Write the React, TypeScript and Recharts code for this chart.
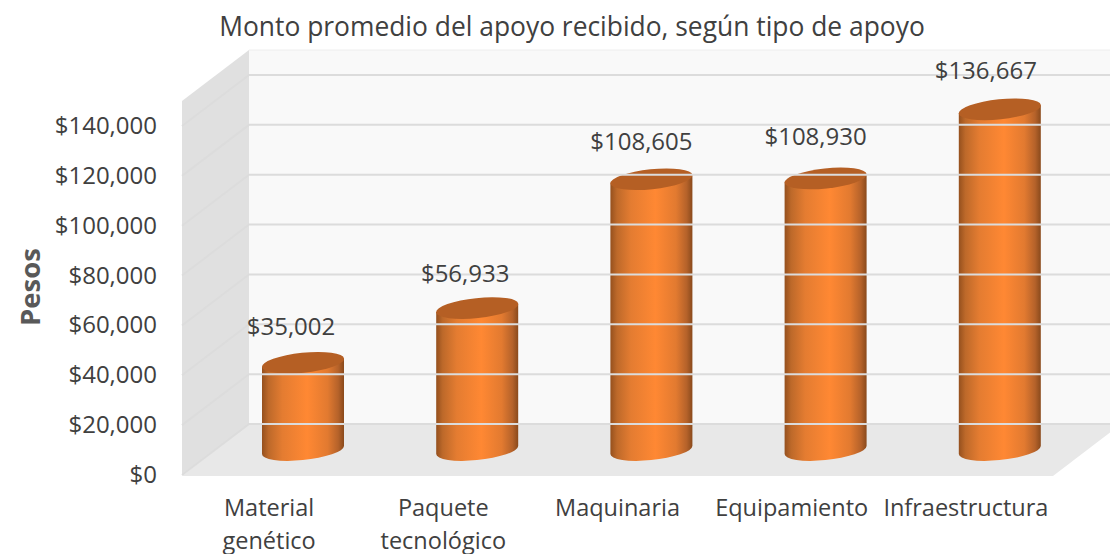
import React from "react";
import { BarChart, Bar, XAxis, YAxis, LabelList } from "recharts";

const categories = ["Material genético", "Paquete tecnológico", "Maquinaria", "Equipamiento", "Infraestructura"];
const amounts = [35002, 56933, 108605, 108930, 136667];
const yTicks = [0, 20000, 40000, 60000, 80000, 100000, 120000, 140000];
const labelNudges = [0, 2, -1, -5, -2];
const labelShiftX = [-12, -12, -10, -10, -14];

const rows = categories.map((name, i) => ({ name, amount: amounts[i] }));

const W = 1110, H = 554;
const LEFT = 182, RIGHT = 1053, TOP = 126, BOTTOM = 475;
const DX = 67, DY = 51;
const SHIFT_X = 34, SHIFT_Y = 25;
const FONT = '"Open Sans", sans-serif';
const TEXT = "#404040";
const money = (v: number) => "$" + v.toLocaleString("en-US");

function Backdrop() {
  const backTop = 50;
  const backBottom = BOTTOM - DY;
  return (
    <g>
      <defs>
        <linearGradient id="cyl" x1="0" y1="0" x2="1" y2="0">
          <stop offset="0" stopColor="#95501e" />
          <stop offset="0.08" stopColor="#bd692a" />
          <stop offset="0.25" stopColor="#e47c31" />
          <stop offset="0.55" stopColor="#ff8833" />
          <stop offset="0.8" stopColor="#e27a30" />
          <stop offset="0.93" stopColor="#b5622a" />
          <stop offset="1" stopColor="#8a4a1c" />
        </linearGradient>
      </defs>
      <rect x={LEFT + DX} y={backTop} width={W - LEFT - DX} height={backBottom - backTop} fill="#f9f9f9" />
      <line x1={LEFT + DX} y1={backTop} x2={W} y2={backTop} stroke="#eeeeee" strokeWidth={1} />
      <polygon points={`${LEFT},${backTop + DY} ${LEFT + DX},${backTop} ${LEFT + DX},${backBottom} ${LEFT},${BOTTOM}`} fill="#e0e0e0" />
      <polygon points={`${LEFT},${BOTTOM + 1} ${LEFT + DX},${backBottom} ${W},${backBottom} ${W},${BOTTOM + 1 - ((W - RIGHT) * DY) / DX} ${RIGHT},${BOTTOM + 1}`} fill="#e8e8e8" />
      <text x={572} y={36} textAnchor="middle" fontFamily={FONT} fontSize={26.4} fill={TEXT}>
        Monto promedio del apoyo recibido, según tipo de apoyo
      </text>
      <text transform="translate(40,287) rotate(-90)" textAnchor="middle" fontFamily={FONT} fontSize={27.5} fontWeight={700} fill="#595959">
        Pesos
      </text>
    </g>
  );
}

function YTick({ y, payload }: any) {
  return (
    <g>
      <polyline points={`${LEFT},${y} ${LEFT + DX},${y - DY} ${W},${y - DY}`} fill="none" stroke="#dcdcdc" strokeWidth={2} />
      <text x={157} y={y + 8} textAnchor="end" fontFamily={FONT} fontSize={24} fill={TEXT}>
        {money(payload.value)}
      </text>
    </g>
  );
}

function XTick({ x, y, payload }: any) {
  const words = String(payload.value).split(" ");
  return (
    <text textAnchor="middle" fontFamily={FONT} fontSize={23.5} fill={TEXT}>
      {words.map((w, i) => (
        <tspan key={w} x={x} y={y + 33 + i * 33}>
          {w}
        </tspan>
      ))}
    </text>
  );
}

function Cylinder({ x, y, width, height }: any) {
  const rx = width / 2;
  const ry = 10;
  const rot = -6;
  const slant = 4;
  const cx = x + rx + SHIFT_X;
  const top = y - SHIFT_Y;
  const bot = y + height - SHIFT_Y;
  const l = cx - rx, r = cx + rx;
  const d = `M${l},${top + slant} L${l},${bot + slant} A${rx},${ry} ${rot} 0 0 ${r},${bot - slant} L${r},${top - slant} Z`;
  return (
    <g>
      <path d={d} fill="url(#cyl)" />
      <ellipse cx={cx} cy={top} rx={rx + 0.3} ry={ry} transform={`rotate(${rot} ${cx} ${top})`} fill="#b55f24" />
    </g>
  );
}

function ValueLabel({ x, y, width, value, index }: any) {
  return (
    <text
      x={x + width / 2 + SHIFT_X + labelShiftX[index]}
      y={y - SHIFT_Y - 28 + labelNudges[index]}
      textAnchor="middle"
      fontFamily={FONT}
      fontSize={24}
      fill={TEXT}
    >
      {money(value)}
    </text>
  );
}

export default function App() {
  return (
    <div style={{ position: "absolute", left: 0, top: 0, width: W, height: H, background: "#fff", overflow: "hidden" }}>
      <BarChart
        width={W}
        height={H}
        data={rows}
        barSize={82}
        margin={{ top: TOP, left: LEFT - 120, right: W - RIGHT, bottom: 0 }}
      >
        <Backdrop />
        <YAxis
          width={120}
          domain={[0, 140000]}
          ticks={yTicks}
          axisLine={false}
          tickLine={false}
          interval={0}
          tick={<YTick />}
        />
        <XAxis dataKey="name" height={H - BOTTOM} axisLine={false} tickLine={false} interval={0} tick={<XTick />} />
        <Bar dataKey="amount" isAnimationActive={false} shape={<Cylinder />}>
          <LabelList dataKey="amount" content={<ValueLabel />} />
        </Bar>
      </BarChart>
    </div>
  );
}
